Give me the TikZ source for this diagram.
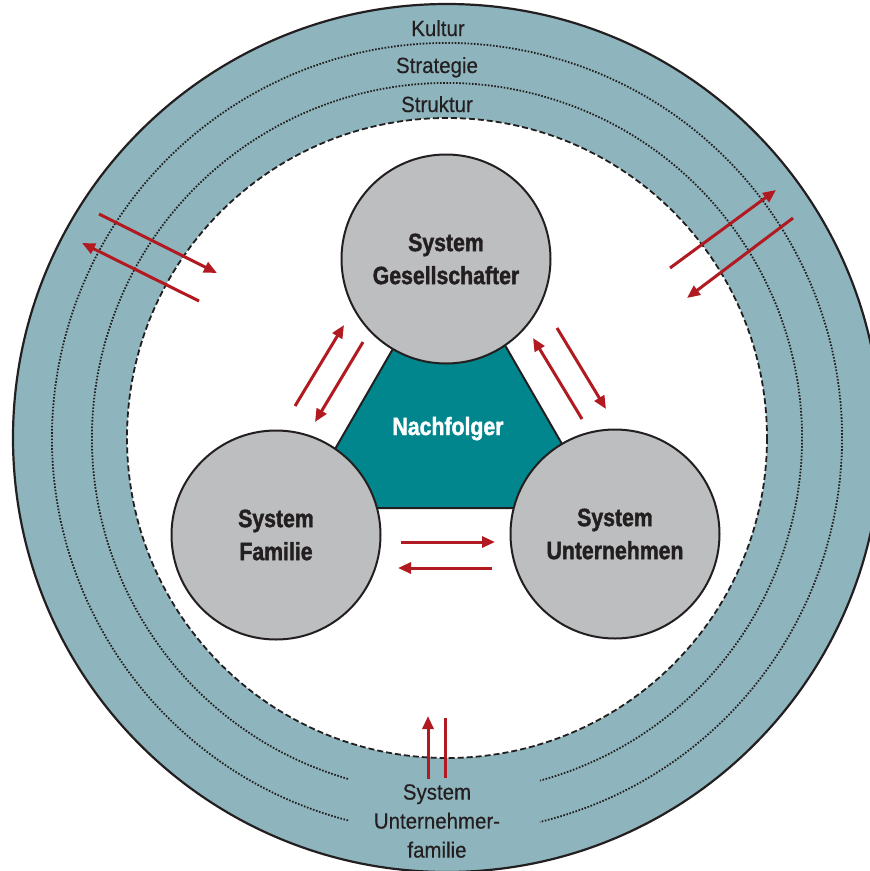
\documentclass[tikz,border=0pt]{standalone}
\usepackage{fontspec}
\setmainfont{Liberation Sans}[FakeStretch=0.93,FakeBold=0.4]
\newfontfamily\condbold{Liberation Sans}[FakeStretch=0.85,FakeBold=1.6]
\usetikzlibrary{arrows.meta,calc}

\definecolor{ringblue}{HTML}{8EB5BD}
\definecolor{sysgray}{HTML}{BCBEC0}
\definecolor{coreteal}{HTML}{00868C}
\definecolor{flowred}{HTML}{B01A20}
\definecolor{inkdark}{HTML}{231F20}

\begin{document}
\begin{tikzpicture}[x=1pt,y=-1pt,
  ringlabel/.style={anchor=base,inner sep=0pt,text=inkdark,font=\fontsize{22}{29}\selectfont},
  sysnode/.style={circle,minimum size=209pt,inner sep=0pt,draw=inkdark,line width=2pt,
    fill=sysgray,align=center,text=inkdark,font=\condbold\bfseries\fontsize{25}{33}\selectfont},
  sepline/.style={line width=1.8pt,dash pattern=on 1.6pt off 1.6pt,inkdark},
  flow/.style={draw=flowred,line width=3pt,-{Triangle[length=13pt,width=11pt]}},
  flowplain/.style={draw=flowred,line width=3pt}]
\useasboundingbox (0,0) rectangle (870,871);
\clip (0,0) rectangle (870,871);

% outer environment ring
\coordinate (mid) at (447,438);
\fill[ringblue] (mid) circle[radius=434];
\draw[inkdark,line width=2.2pt] (mid) circle[radius=434];
\fill[white] (mid) circle[radius=320];
\draw[inkdark,line width=1.8pt,dash pattern=on 6pt off 3pt] (mid) circle[radius=320];

% dotted separators, open at the bottom for the label
\draw[sepline] ($(mid)+(104.5:395)$) arc[start angle=104.5,end angle=436.4,radius=395];
\draw[sepline] ($(mid)+(106.2:355)$) arc[start angle=106.2,end angle=434.8,radius=355];

\node[ringlabel] (kultur) at (438,36) {Kultur};
\node[ringlabel] (strategie) at (437,73) {Strategie};
\node[ringlabel] (struktur) at (437,112) {Struktur};
\node[anchor=north,inner sep=0pt,align=center,text=inkdark,
  font=\fontsize{22}{29}\selectfont] (uf) at (437,784)
  {System\\Unternehmer-\\familie};

% successor core
\draw[fill=coreteal,draw=inkdark,line width=2pt] (450,250) -- (301,508) -- (599,508) -- cycle;
\node[text=white,font=\condbold\bfseries\fontsize{25}{30}\selectfont,anchor=base,inner sep=0pt]
  (nf) at (448,435) {Nachfolger};

% the three systems
\node[sysnode] (ges) at (446,259) {System\\Gesellschafter};
\node[sysnode] (fam) at (276,535) {System\\Familie};
\node[sysnode] (unt) at (615,534) {System\\Unternehmen};

% exchange arrows
\coordinate (a1s) at (99,214);  \coordinate (a1e) at (217,273);
\coordinate (a2s) at (199,301); \coordinate (a2e) at (82,243);
\draw[flow] (a1s) -- (a1e);
\draw[flow] (a2s) -- (a2e);

\coordinate (b1s) at (670,268); \coordinate (b1e) at (776,190);
\coordinate (b2s) at (793,218); \coordinate (b2e) at (687,298);
\draw[flow] (b1s) -- (b1e);
\draw[flow] (b2s) -- (b2e);

\coordinate (c1s) at (295,406); \coordinate (c1e) at (344,325);
\coordinate (c2s) at (363,342); \coordinate (c2e) at (315,422);
\draw[flow] (c1s) -- (c1e);
\draw[flow] (c2s) -- (c2e);

\coordinate (d1s) at (582,419); \coordinate (d1e) at (533,338);
\coordinate (d2s) at (557,328); \coordinate (d2e) at (606,409);
\draw[flow] (d1s) -- (d1e);
\draw[flow] (d2s) -- (d2e);

\coordinate (e1s) at (401,542); \coordinate (e1e) at (495,542);
\coordinate (e2s) at (492,568); \coordinate (e2e) at (398,568);
\draw[flow] (e1s) -- (e1e);
\draw[flow] (e2s) -- (e2e);

\coordinate (f1s) at (428,779); \coordinate (f1e) at (428,716);
\coordinate (f2s) at (445,778); \coordinate (f2e) at (445,718);
\draw[flow] (f1s) -- (f1e);
\draw[flowplain] (f2s) -- (f2e);
\end{tikzpicture}
\end{document}
